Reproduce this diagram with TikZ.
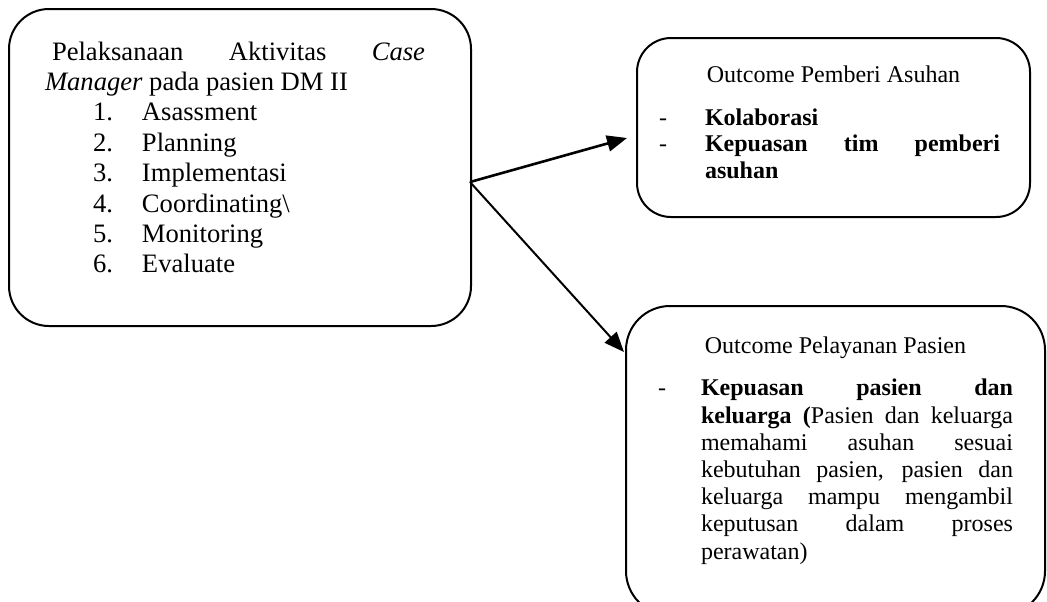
\documentclass[tikz,border=0pt]{standalone}
\usepackage{fontspec}
\setmainfont{Liberation Serif}
\usetikzlibrary{positioning,arrows.meta}

\tikzset{
  box/.style={draw, line width=1pt, rounded corners=20pt, inner sep=0pt},
  flow/.style={-{Triangle[length=10pt,width=8pt]}, line width=1.3pt},
}
\newcommand{\bottomgap}[1]{\par\vspace{#1}\hrule height 0pt width 0pt}

\begin{document}
\begin{tikzpicture}[x=0.5pt,y=-0.5pt]
    \useasboundingbox (0,0) rectangle (1047,601);

    % aktivitas case manager
    \node[box, minimum width=231pt, minimum height=158.5pt, text width=195pt,
          align=justify, font=\fontsize{13.3}{15.2}\selectfont] (case) at (240,167.5)
    {\rightskip=5pt
     \hspace*{3.5pt}Pelaksanaan Aktivitas \textit{Case}\linebreak
     \textit{Manager} pada pasien DM II\\
     \hspace*{24pt}\makebox[24.5pt][l]{1.}Asassment\\
     \hspace*{24pt}\makebox[24.5pt][l]{2.}Planning\\
     \hspace*{24pt}\makebox[24.5pt][l]{3.}Implementasi\\
     \hspace*{24pt}\makebox[24.5pt][l]{4.}Coordinating\textbackslash\\
     \hspace*{24pt}\makebox[24.5pt][l]{5.}Monitoring\\
     \hspace*{24pt}\makebox[24.5pt][l]{6.}Evaluate\bottomgap{10pt}};

    % outcome pemberi asuhan
    \node[box, rounded corners=17pt, minimum width=196.5pt, minimum height=89.5pt,
          text width=174.5pt, align=justify, font=\fontsize{12}{13.25}\selectfont]
          (asuhan) at (833.5,127.5)
    {{\centering Outcome Pemberi Asuhan\par}\vspace{8pt}
     \rightskip=4pt \leftskip=23pt
     \hspace*{-23pt}\makebox[23pt][l]{-}\textbf{Kolaborasi}\par
     \hspace*{-23pt}\makebox[23pt][l]{-}\textbf{Kepuasan tim pemberi asuhan}\bottomgap{5pt}};

    % outcome pelayanan pasien
    \node[box, rounded corners=22pt, minimum width=209.5pt, minimum height=154.5pt,
          text width=177.5pt, align=justify, font=\fontsize{12}{13.6}\selectfont]
          (pasien) at (835.5,460.5)
    {{\centering Outcome Pelayanan Pasien\par}\vspace{7.6pt}
     \leftskip=21.5pt
     \hspace*{-21.5pt}\makebox[21.5pt][l]{-}\textbf{Kepuasan pasien dan}\linebreak
     \textbf{keluarga (}Pasien dan keluarga\linebreak
     memahami asuhan sesuai\linebreak
     kebutuhan pasien, pasien dan\linebreak
     keluarga mampu mengambil\linebreak
     keputusan dalam proses\linebreak
     perawatan)\bottomgap{10pt}};

    \coordinate (split) at ([xshift=-1pt,yshift=-7.25pt]case.east);
    \draw[flow] (split) -- ([xshift=-4.5pt,yshift=-5.25pt]asuhan.west);
    \draw[flow, line width=1pt] (split) -- ([xshift=-0.5pt,yshift=54.25pt]pasien.west);
\end{tikzpicture}
\end{document}
